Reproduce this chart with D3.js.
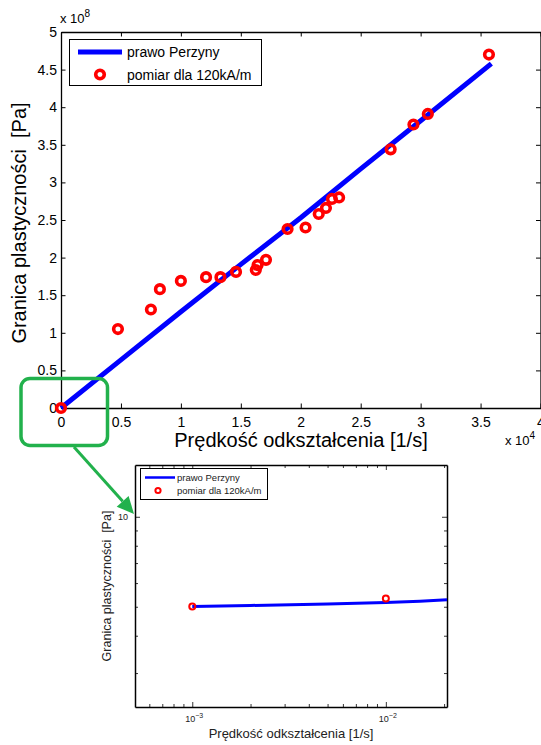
<!DOCTYPE html>
<html>
<head>
<meta charset="utf-8">
<script src="https://cdn.jsdelivr.net/npm/d3@7"></script>
<style>
  body { margin: 0; background: #fff; }
  svg { display: block; font-family: "Liberation Sans", Arial, Helvetica, sans-serif; }
  text { white-space: pre; }
</style>
</head>
<body>
<svg id="fig" width="541" height="745"></svg>
<script>
// Measured yield stress vs strain rate (main linear plot)
const measRate   = [0, 4750, 7500, 8250, 10000, 12100, 13300, 14600, 16250, 16400, 17100,
                    18900, 20400, 21500, 22100, 22600, 23200, 27500, 29400, 30600, 35700];
const measStress = [0, 1.05e8, 1.31e8, 1.58e8, 1.69e8, 1.74e8, 1.74e8, 1.81e8, 1.835e8, 1.90e8, 1.97e8,
                    2.38e8, 2.40e8, 2.58e8, 2.66e8, 2.78e8, 2.80e8, 3.44e8, 3.77e8, 3.91e8, 4.70e8];
// Perzyna law curve
const lawRate   = [0, 5000, 10000, 15000, 20000, 25000, 30000, 35900];
const lawStress = [0, 0.64e8, 1.28e8, 1.91e8, 2.53e8, 3.18e8, 3.82e8, 4.58e8];
// Tick values of the main plot
const xTicks = [0, 5000, 10000, 15000, 20000, 25000, 30000, 35000, 40000];
const yTicks = [0, 0.5e8, 1e8, 1.5e8, 2e8, 2.5e8, 3e8, 3.5e8, 4e8, 4.5e8, 5e8];

// Low strain-rate detail (log-log inset)
const zoomMeasRate   = [1e-3, 1e-2];
const zoomMeasStress = [5.01e7, 5.33e7];
const zoomLawRate    = [1e-3, 2e-3, 5e-3, 1e-2, 1.5e-2, 2.07e-2];
const zoomLawStress  = [5.01e7, 5.05e7, 5.11e7, 5.17e7, 5.22e7, 5.28e7];

const legendLabels = ["prawo Perzyny", "pomiar dla 120kA/m"];
const yTitle = "Granica plastyczności\u00a0\u00a0[Pa]";
const xTitle = "Prędkość odkształcenia [1/s]";

const svg = d3.select("#fig");
const BLUE = "#0000ff", RED = "#ff0000", GREEN = "#22b14c";

// ---------- main plot ----------
const x = d3.scaleLinear().domain([0, 40000]).range([61, 540.5]);
const y = d3.scaleLinear().domain([0, 5e8]).range([408, 32]);
const main = svg.append("g");

function styleAxis(g, fs) {
  g.select(".domain").attr("stroke", "#000").attr("stroke-width", 1.3);
  g.selectAll(".tick line").attr("stroke", "#000").attr("stroke-width", 1);
  g.selectAll("text").attr("fill", "#000").attr("font-size", fs).attr("font-family", null);
}

main.append("g").attr("transform", `translate(0,${y(0)})`)
  .call(d3.axisBottom(x).tickValues(xTicks).tickSizeInner(-4.5).tickSizeOuter(0).tickPadding(9)
    .tickFormat(d => d3.format("~g")(d / 1e4)))
  .call(g => styleAxis(g, 14));
main.append("g").attr("transform", `translate(0,${y(5e8)})`)
  .call(d3.axisTop(x).tickValues(xTicks).tickSizeInner(-4.5).tickSizeOuter(0).tickFormat(""))
  .call(g => styleAxis(g, 14));
main.append("g").attr("transform", `translate(${x(0)},0)`)
  .call(d3.axisLeft(y).tickValues(yTicks).tickSizeInner(-4.5).tickSizeOuter(0).tickPadding(4)
    .tickFormat(d => d3.format("~g")(d / 1e8)))
  .call(g => styleAxis(g, 14));
main.append("g").attr("transform", `translate(${x(40000)},0)`)
  .call(d3.axisRight(y).tickValues(yTicks).tickSizeInner(-4.5).tickSizeOuter(0).tickFormat(""))
  .call(g => styleAxis(g, 14));

// exponent labels
const e8 = main.append("text").attr("x", 60).attr("y", 23).attr("font-size", 13);
e8.append("tspan").text("x 10");
e8.append("tspan").attr("dy", -6).attr("font-size", 10).text("8");
const e4 = main.append("text").attr("x", 505).attr("y", 445).attr("font-size", 13);
e4.append("tspan").text("x 10");
e4.append("tspan").attr("dy", -6).attr("font-size", 10).text("4");

// titles
main.append("text").attr("x", 301).attr("y", 447).attr("text-anchor", "middle")
  .attr("font-size", 20).text(xTitle);
main.append("text").attr("transform", `translate(26,${(32 + 408) / 2 + 3}) rotate(-90)`)
  .attr("text-anchor", "middle").attr("font-size", 20).text(yTitle);

// Perzyna law line
const lawLine = d3.line().x((d, i) => x(lawRate[i])).y(d => y(d));
main.append("path").datum(lawStress).attr("d", lawLine)
  .attr("fill", "none").attr("stroke", BLUE).attr("stroke-width", 5);

// measurements
main.append("g").selectAll("circle").data(measStress).join("circle")
  .attr("cx", (d, i) => x(measRate[i])).attr("cy", d => y(d))
  .attr("r", 4.3).attr("fill", "none").attr("stroke", RED).attr("stroke-width", 3.6);

// legend
const lg = main.append("g");
lg.append("rect").attr("x", 69.5).attr("y", 39.5).attr("width", 192).attr("height", 46)
  .attr("fill", "#fff").attr("stroke", "#000").attr("stroke-width", 1);
lg.append("line").attr("x1", 78).attr("x2", 122).attr("y1", 52).attr("y2", 52)
  .attr("stroke", BLUE).attr("stroke-width", 5);
lg.append("circle").attr("cx", 100).attr("cy", 74.5).attr("r", 4.3)
  .attr("fill", "none").attr("stroke", RED).attr("stroke-width", 3.6);
lg.selectAll("text.lab").data(legendLabels).join("text").attr("class", "lab")
  .attr("x", 127).attr("y", (d, i) => 57 + i * 23).attr("font-size", 14).text(d => d);

// ---------- log-log inset ----------
const ix = d3.scaleLog().domain([5.06e-4, 2.07e-2]).range([135, 447]);
const iy = d3.scaleLog().domain([2.31e7, 1.49e8]).range([707, 465]);
const inset = svg.append("g");

function logTicks(scale) {
  const [a, b] = scale.domain();
  const out = [];
  for (let e = Math.floor(Math.log10(a)); e <= Math.ceil(Math.log10(b)); e++)
    for (let m = 1; m <= 9; m++) {
      const v = m * Math.pow(10, e);
      if (v >= a && v <= b) out.push(v);
    }
  return out;
}
const isMajor = v => Math.abs(Math.log10(v) - Math.round(Math.log10(v))) < 1e-9;
const ixTicks = logTicks(ix), iyTicks = logTicks(iy);

function insetTicks(g) {
  g.select(".domain").attr("stroke", "#000").attr("stroke-width", 1.5);
  g.selectAll(".tick line").attr("stroke", "#000").attr("stroke-width", 0.8);
  g.selectAll(".tick").each(function (d) {
    const ln = d3.select(this).select("line");
    const len = isMajor(d) ? 5 : 3;
    ["x2", "y2"].forEach(k => {
      const v = +ln.attr(k);
      if (v) ln.attr(k, Math.sign(v) * len);
    });
  });
  g.selectAll(".tick text").remove();
}

inset.append("g").attr("transform", `translate(0,707)`)
  .call(d3.axisBottom(ix).tickValues(ixTicks).tickSizeInner(-5).tickSizeOuter(0)).call(insetTicks);
inset.append("g").attr("transform", `translate(0,465)`)
  .call(d3.axisTop(ix).tickValues(ixTicks).tickSizeInner(-5).tickSizeOuter(0)).call(insetTicks);
inset.append("g").attr("transform", `translate(135,0)`)
  .call(d3.axisLeft(iy).tickValues(iyTicks).tickSizeInner(-5).tickSizeOuter(0)).call(insetTicks);
inset.append("g").attr("transform", `translate(447,0)`)
  .call(d3.axisRight(iy).tickValues(iyTicks).tickSizeInner(-5).tickSizeOuter(0)).call(insetTicks);

// decade labels
ixTicks.filter(isMajor).forEach(v => {
  const t = inset.append("text").attr("x", ix(v) - 7).attr("y", 722)
    .attr("font-size", 9).attr("fill", "#222");
  t.append("tspan").text("10");
  t.append("tspan").attr("dy", -4).attr("font-size", 7).text(d3.format("d")(Math.round(Math.log10(v))));
});
iyTicks.filter(isMajor).forEach(v => {
  inset.append("text").attr("x", 128).attr("y", iy(v) + 3.5).attr("text-anchor", "end")
    .attr("font-size", 9).attr("fill", "#222").text("10");
});

inset.append("text").attr("x", 291).attr("y", 738).attr("text-anchor", "middle")
  .attr("font-size", 13).attr("fill", "#222").text(xTitle);
inset.append("text").attr("transform", `translate(111,586) rotate(-90)`)
  .attr("text-anchor", "middle").attr("font-size", 12.5).attr("fill", "#222").text(yTitle);

const zoomLine = d3.line().x((d, i) => ix(zoomLawRate[i])).y(d => iy(d));
inset.append("path").datum(zoomLawStress).attr("d", zoomLine)
  .attr("fill", "none").attr("stroke", BLUE).attr("stroke-width", 3);
inset.append("g").selectAll("circle").data(zoomMeasStress).join("circle")
  .attr("cx", (d, i) => ix(zoomMeasRate[i])).attr("cy", d => iy(d))
  .attr("r", 3).attr("fill", "none").attr("stroke", RED).attr("stroke-width", 2);

const ilg = inset.append("g");
ilg.append("rect").attr("x", 140.5).attr("y", 468.5).attr("width", 127).attr("height", 31)
  .attr("fill", "#fff").attr("stroke", "#000").attr("stroke-width", 1);
ilg.append("line").attr("x1", 145).attr("x2", 175).attr("y1", 477.5).attr("y2", 477.5)
  .attr("stroke", BLUE).attr("stroke-width", 2.5);
ilg.append("circle").attr("cx", 158).attr("cy", 490.5).attr("r", 2.6)
  .attr("fill", "none").attr("stroke", RED).attr("stroke-width", 2);
ilg.selectAll("text.lab").data(legendLabels).join("text").attr("class", "lab")
  .attr("x", 177).attr("y", (d, i) => 481 + i * 13).attr("font-size", 9.5).attr("fill", "#222").text(d => d);

// ---------- callout: rounded frame and arrow ----------
const call = svg.append("g");
call.append("rect").attr("x", 21).attr("y", 378.5).attr("width", 86.5).attr("height", 67)
  .attr("rx", 9).attr("fill", "none").attr("stroke", GREEN).attr("stroke-width", 3.5);
const tip = [134, 514], start = [74, 447];
const dx = tip[0] - start[0], dy = tip[1] - start[1], L = Math.hypot(dx, dy);
const ux = dx / L, uy = dy / L, hl = 17, hw = 8;
const base = [tip[0] - ux * hl, tip[1] - uy * hl];
call.append("line").attr("x1", start[0]).attr("y1", start[1]).attr("x2", base[0]).attr("y2", base[1])
  .attr("stroke", GREEN).attr("stroke-width", 3);
call.append("path")
  .attr("d", `M${tip[0]},${tip[1]} L${base[0] - uy * hw},${base[1] + ux * hw} L${base[0] + uy * hw},${base[1] - ux * hw} Z`)
  .attr("fill", GREEN);
</script>
</body>
</html>
